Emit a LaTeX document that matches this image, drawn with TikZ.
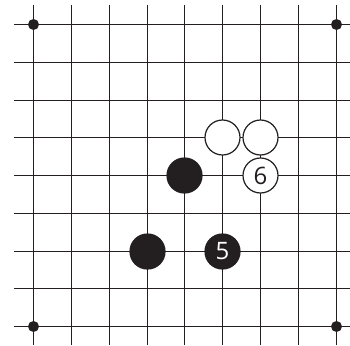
\documentclass[tikz,border=0pt]{standalone}
\usepackage{fontspec}
\newfontfamily\stonefont{Open Sans}
\definecolor{ink}{HTML}{231F20}
\begin{document}
\begin{tikzpicture}[x=1pt,y=-1pt,
  gridline/.style={draw=ink,line width=1.1pt},
  hoshi/.style={circle,fill=ink,inner sep=0pt,minimum size=11pt},
  bstone/.style={circle,fill=ink,draw=ink,line width=1.2pt,inner sep=0pt,minimum size=35pt,text=white,font=\stonefont\fontsize{24}{24}\selectfont},
  wstone/.style={circle,fill=white,draw=ink,line width=1.2pt,inner sep=0pt,minimum size=35pt,text=ink,font=\stonefont\fontsize{24}{24}\selectfont}]
\useasboundingbox (0,0) rectangle (350,345);
% grid
\foreach \xx in {33.5,71.5,109.5,147.5,184.5,222.5,260.5,298.5,336.5}
  \draw[gridline] (\xx,5) -- (\xx,345);
\foreach \yy in {24.5,62.5,100.5,137.5,175.5,213.5,251.5,288.5,326.5}
  \draw[gridline] (14,\yy) -- (350,\yy);
% star points
\node[hoshi] (h1) at (33.5,24.5) {};
\node[hoshi] (h2) at (336.5,24.5) {};
\node[hoshi] (h3) at (33.5,326.5) {};
\node[hoshi] (h4) at (336.5,326.5) {};
% stones
\node[bstone] (b1) at (184.5,175.5) {};
\node[bstone] (b2) at (147.5,251.5) {};
\node[bstone] (b5) at (222.5,251.5) {5};
\node[wstone] (w1) at (222.5,137.5) {};
\node[wstone] (w2) at (260.5,137.5) {};
\node[wstone] (w6) at (260.5,175.5) {6};
\end{tikzpicture}
\end{document}
